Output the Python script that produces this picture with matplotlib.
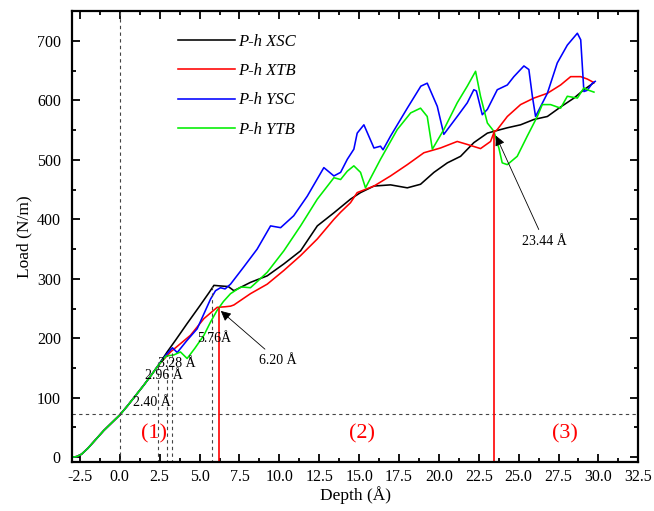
import numpy as np
import matplotlib
matplotlib.use("Agg")
import matplotlib.pyplot as plt
from matplotlib.ticker import MultipleLocator

plt.rcParams['font.family'] = ['Liberation Serif', 'DejaVu Serif']

# shared loading segment (all four curves overlap here)
depth_common = [-3.0, -2.7, -2.4, -2.0, -1.5, -1.0, -0.5, 0.0, 0.5, 1.0, 1.5, 2.0, 2.4]
load_common = [0, 1, 5, 15, 30, 45, 58, 71, 87, 104, 121, 139, 154]

depth_xsc = [2.97, 3.5, 4.2, 5.0, 5.6, 5.9, 6.3, 6.8, 7.15, 7.6, 8.19, 9.24, 10.28,
             11.33, 12.38, 13.42, 14.46, 15.09, 15.93, 16.97, 18.02, 18.85, 19.69,
             20.53, 21.36, 22.19, 23.04, 23.45, 24.29, 25.12, 25.96, 26.8, 27.63,
             28.47, 29.09, 29.72]
load_xsc = [177, 197, 224, 254, 277, 289, 288, 287, 280, 286, 294, 305, 325,
            347, 389, 411, 434, 445, 456, 458, 453, 459, 479,
            495, 506, 529, 545, 548, 554, 559, 568, 573, 589,
            604, 618, 630]

depth_xtb = [3.18, 4.43, 5.27, 6.1, 6.6, 6.94, 7.15, 8.19, 9.24, 10.28, 11.33, 12.38,
             13.42, 13.84, 14.46, 14.88, 15.93, 16.97, 18.02, 19.06, 20.1, 21.15,
             21.78, 22.61, 23.24, 23.45, 23.66, 24.29, 25.12, 25.96, 26.8, 27.63,
             28.26, 28.89, 29.3, 29.72]
load_xtb = [177, 205, 233, 252, 253, 254, 256, 275, 291, 314, 339, 367,
            400, 412, 428, 445, 456, 473, 492, 512, 520, 531,
            526, 519, 531, 546, 551, 573, 593, 604, 612, 626,
            640, 640, 636, 630]

depth_ysc = [2.9, 3.3, 3.6, 4.2, 4.85, 5.69, 6.0, 6.31, 6.6, 6.94, 7.77, 8.61, 9.45,
             10.08, 10.9, 11.75, 12.79, 13.42, 13.84, 14.26, 14.67, 14.88, 15.3,
             15.93, 16.34, 16.5, 16.97, 18.02, 18.87, 19.27, 19.9, 20.31, 21.15,
             21.78, 22.19, 22.35, 22.72, 23.04, 23.66, 24.29, 24.7, 25.33, 25.64,
             25.86, 26.06, 26.8, 27.42, 28.05, 28.68, 28.89, 29.09, 29.3, 29.62, 29.8]
load_ysc = [172, 184, 176, 196, 216, 266, 280, 285, 283, 291, 320, 350, 389,
            386, 406, 439, 487, 473, 479, 501, 518, 545, 559,
            520, 523, 517, 540, 587, 624, 629, 590, 543, 573,
            596, 618, 616, 576, 585, 618, 626, 640, 658, 652,
            607, 573, 612, 663, 693, 713, 702, 615, 617, 629, 632]

depth_ytb = [2.9, 3.39, 3.8, 4.22, 4.7, 5.27, 5.7, 6.1, 6.5, 6.94, 7.57, 7.77, 8.19,
             8.6, 9.24, 10.28, 11.33, 12.38, 13.42, 13.84, 14.26, 14.67, 15.09,
             15.4, 16.34, 17.39, 18.23, 18.85, 19.27, 19.59, 20.31, 21.15, 21.78,
             22.3, 22.61, 23.04, 23.45, 23.76, 23.97, 24.29, 24.91, 25.54, 26.17,
             26.48, 27.0, 27.63, 28.05, 28.68, 29.09, 29.4, 29.72]
load_ytb = [170, 172, 177, 166, 183, 205, 228, 247, 262, 275, 286, 286, 285,
            295, 311, 347, 389, 434, 470, 467, 481, 490, 479,
            453, 501, 551, 579, 587, 573, 518, 551, 596, 624,
            649, 607, 562, 548, 520, 495, 492, 506, 540, 573,
            593, 593, 587, 607, 604, 621, 617, 614]

series = [
    ("P-h XSC", depth_xsc, load_xsc, "black"),
    ("P-h XTB", depth_xtb, load_xtb, "#ff0000"),
    ("P-h YSC", depth_ysc, load_ysc, "#0000ff"),
    ("P-h YTB", depth_ytb, load_ytb, "#00ee00"),
]

# marked depths: (depth, load at curve)
dashed_marks = [(2.40, 160), (2.96, 172), (3.28, 178), (5.76, 288)]
red_marks = [(6.20, 251), (23.44, 548)]
threshold_load = 72

fig = plt.figure(figsize=(6.54, 5.11), dpi=100)
ax = fig.add_axes([0.110, 0.096, 0.866, 0.882])

for name, dx, ly, c in series:
    x = np.concatenate([depth_common, dx])
    y = np.concatenate([load_common, ly])
    ax.plot(x, y, color=c, lw=1.15, label=name)

dash = dict(color="#444444", lw=0.8, ls=(0, (3, 3)))
ax.axvline(0.0, **dash)
ax.axhline(threshold_load, **dash)
for d, l in dashed_marks:
    ax.plot([d, d], [-10, l], **dash)
for d, l in red_marks:
    ax.plot([d, d], [-10, l], color="#ff0000", lw=1.2)

tfont = dict(fontsize=10, ha="center", va="center")
ax.text(2.03, 92, "2.40 Å", **tfont)
ax.text(2.76, 137, "2.96 Å", **tfont)
ax.text(3.6, 157, "3.28 Å", **tfont)
ax.text(5.94, 199, "5.76Å", **tfont)

arrow = dict(arrowstyle="-|>", color="black", lw=0.6, mutation_scale=15)
ax.annotate("6.20 Å", xy=(6.2, 249), xytext=(9.9, 163), fontsize=10,
            ha="center", va="center", arrowprops=arrow)
ax.annotate("23.44 Å", xy=(23.5, 545), xytext=(26.6, 363), fontsize=10,
            ha="center", va="center", arrowprops=arrow)

for lab, px in [("(1)", 2.13), ("(2)", 15.2), ("(3)", 27.9)]:
    ax.text(px, 40, lab, color="#ff0000", fontsize=16, ha="center", va="center")

ax.set_xlim(-3.0, 32.5)
ax.set_ylim(-8, 750)
ax.xaxis.set_minor_locator(MultipleLocator(1.25))
ax.yaxis.set_minor_locator(MultipleLocator(50))
xt = np.arange(-2.5, 32.6, 2.5)
ax.set_xticks(xt)
ax.set_xticklabels([f"{v:.1f}" for v in xt])
ax.set_yticks(np.arange(0, 701, 100))
ax.tick_params(which="both", direction="in", top=True, right=True, width=1.3,
               labelsize=11.5)
ax.tick_params(which="major", length=6)
ax.tick_params(which="minor", length=3)
ax.tick_params(axis="y", pad=8)
ax.tick_params(axis="x", pad=5)
for s in ax.spines.values():
    s.set_linewidth(1.6)

ax.set_xlabel("Depth (Å)", fontsize=12.5, labelpad=1)
ax.set_ylabel("Load (N/m)", fontsize=12.5, labelpad=3)

leg = ax.legend(loc="upper left", bbox_to_anchor=(0.187, 0.95), frameon=False,
                prop=dict(family="Liberation Serif", style="italic", size=12),
                handlelength=3.4, handletextpad=0.2, labelspacing=0.8,
                borderpad=0, borderaxespad=0)

fig.savefig("out.png", dpi=100)
